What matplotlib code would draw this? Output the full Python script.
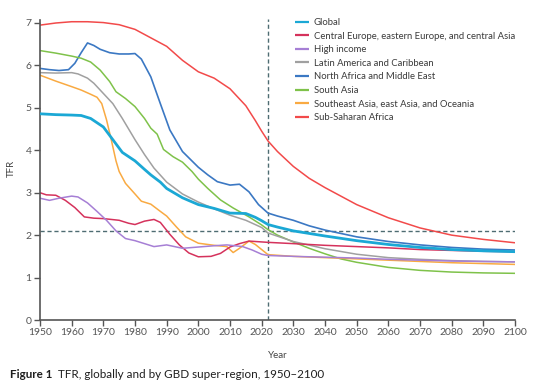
import matplotlib
matplotlib.use("Agg")
import matplotlib.pyplot as plt

plt.rcParams['font.family'] = ['Lato', 'DejaVu Sans']

# ---- data ----
global_years = [1950, 1955, 1960, 1963, 1966, 1970, 1973, 1976, 1980, 1983, 1985, 1988, 1990, 1995,
                2000, 2005, 2010, 2015, 2018, 2020, 2022, 2025, 2030, 2040, 2050, 2060, 2070, 2080, 2090, 2100]
global_tfr = [4.86, 4.84, 4.83, 4.82, 4.75, 4.55, 4.25, 3.95, 3.75, 3.55, 3.42, 3.25, 3.1, 2.88,
              2.72, 2.63, 2.52, 2.51, 2.42, 2.34, 2.25, 2.19, 2.1, 1.98, 1.87, 1.78, 1.71, 1.66, 1.63, 1.61]

ceeca_years = [1950, 1952, 1955, 1958, 1961, 1964, 1967, 1970, 1975, 1978, 1980, 1983, 1986, 1988,
               1991, 1994, 1997, 2000, 2004, 2007, 2010, 2013, 2016, 2020, 2022, 2030, 2040, 2050,
               2060, 2070, 2080, 2090, 2100]
ceeca_tfr = [3.0, 2.95, 2.94, 2.82, 2.65, 2.43, 2.4, 2.39, 2.35, 2.28, 2.25, 2.33, 2.37, 2.3,
             2.02, 1.77, 1.58, 1.49, 1.5, 1.57, 1.72, 1.8, 1.86, 1.84, 1.83, 1.8, 1.76, 1.73,
             1.7, 1.66, 1.64, 1.62, 1.61]

hi_years = [1950, 1953, 1956, 1960, 1962, 1965, 1968, 1971, 1974, 1977, 1980, 1983, 1986, 1990,
            1995, 2000, 2005, 2009, 2014, 2017, 2020, 2022, 2030, 2040, 2050, 2060, 2070, 2080, 2090, 2100]
hi_tfr = [2.87, 2.82, 2.87, 2.92, 2.9, 2.76, 2.56, 2.35, 2.1, 1.92, 1.87, 1.8, 1.73, 1.77,
          1.69, 1.72, 1.75, 1.77, 1.73, 1.65, 1.55, 1.52, 1.5, 1.48, 1.46, 1.43, 1.41, 1.39, 1.38, 1.37]

lac_years = [1950, 1955, 1960, 1962, 1965, 1967, 1970, 1973, 1976, 1980, 1983, 1986, 1990, 1995,
             2000, 2005, 2010, 2015, 2020, 2022, 2030, 2040, 2050, 2060, 2070, 2080, 2090, 2100]
lac_tfr = [5.83, 5.82, 5.83, 5.8, 5.7, 5.58, 5.34, 5.1, 4.75, 4.25, 3.9, 3.58, 3.25, 2.97,
           2.78, 2.62, 2.47, 2.35, 2.18, 2.05, 1.85, 1.68, 1.55, 1.47, 1.43, 1.4, 1.38, 1.37]

name_years = [1950, 1953, 1956, 1959, 1961, 1963, 1965, 1967, 1969, 1972, 1975, 1978, 1980, 1982,
              1985, 1988, 1991, 1995, 2000, 2003, 2006, 2010, 2013, 2016, 2019, 2022, 2025, 2030,
              2035, 2040, 2050, 2060, 2070, 2080, 2090, 2100]
name_tfr = [5.93, 5.9, 5.88, 5.9, 6.05, 6.3, 6.53, 6.47, 6.38, 6.3, 6.27, 6.27, 6.28, 6.15,
            5.73, 5.1, 4.48, 3.97, 3.6, 3.42, 3.26, 3.18, 3.2, 3.02, 2.72, 2.52, 2.45, 2.35,
            2.22, 2.12, 1.96, 1.85, 1.77, 1.71, 1.67, 1.65]

sa_years = [1950, 1955, 1960, 1963, 1966, 1969, 1972, 1974, 1977, 1980, 1983, 1985, 1987, 1989,
            1992, 1995, 1998, 2000, 2003, 2007, 2011, 2016, 2020, 2022, 2025, 2030, 2035, 2040,
            2045, 2050, 2060, 2070, 2080, 2090, 2100]
sa_tfr = [6.35, 6.29, 6.22, 6.17, 6.08, 5.89, 5.62, 5.38, 5.22, 5.03, 4.75, 4.52, 4.38, 4.02,
          3.85, 3.72, 3.5, 3.32, 3.1, 2.83, 2.64, 2.43, 2.24, 2.13, 2.0, 1.84, 1.69, 1.56,
          1.44, 1.36, 1.24, 1.17, 1.13, 1.11, 1.1]

seao_years = [1950, 1955, 1960, 1963, 1966, 1968, 1969.5, 1971, 1972.5, 1974, 1975, 1977, 1980,
              1982, 1985, 1988, 1990, 1993, 1996, 2000, 2005, 2009, 2011, 2013, 2016, 2018,
              2021, 2022, 2030, 2040, 2050, 2060, 2070, 2080, 2090, 2100]
seao_tfr = [5.77, 5.63, 5.5, 5.42, 5.32, 5.25, 5.1, 4.72, 4.25, 3.75, 3.5, 3.22, 2.97,
            2.8, 2.73, 2.56, 2.45, 2.2, 1.96, 1.81, 1.76, 1.73, 1.59, 1.69, 1.86, 1.78,
            1.6, 1.54, 1.5, 1.47, 1.44, 1.41, 1.38, 1.35, 1.33, 1.31]

ssa_years = [1950, 1955, 1960, 1965, 1970, 1975, 1980, 1985, 1990, 1995, 2000, 2005, 2010, 2015,
             2018, 2020, 2022, 2025, 2030, 2035, 2040, 2050, 2060, 2070, 2080, 2090, 2100]
ssa_tfr = [6.95, 7.0, 7.03, 7.03, 7.01, 6.96, 6.85, 6.65, 6.45, 6.12, 5.85, 5.7, 5.45, 5.05,
           4.7, 4.45, 4.22, 3.97, 3.62, 3.34, 3.12, 2.72, 2.41, 2.17, 2.0, 1.9, 1.82]

series_names = ["Global", "Central Europe, eastern Europe, and central Asia", "High income",
                "Latin America and Caribbean", "North Africa and Middle East", "South Asia",
                "Southeast Asia, east Asia, and Oceania", "Sub-Saharan Africa"]
series_years = [global_years, ceeca_years, hi_years, lac_years, name_years, sa_years, seao_years, ssa_years]
series_values = [global_tfr, ceeca_tfr, hi_tfr, lac_tfr, name_tfr, sa_tfr, seao_tfr, ssa_tfr]
series_colors = ["#1ba8d5", "#d5325c", "#a67fd5", "#a0a0a0", "#3b78c3", "#7fc24a", "#f9aa42", "#f24a4a"]
series_widths = [2.0, 1.1, 1.1, 1.1, 1.2, 1.1, 1.1, 1.1]

replacement_level = 2.1
current_year = 2022

x_ticks = list(range(1950, 2101, 10))
y_ticks = list(range(0, 8))

# ---- figure ----
Y_TOP = 7.15
px_per_unit = 297 / 7
top_px = 320 - Y_TOP * px_per_unit
fig = plt.figure(figsize=(5.4, 3.92), dpi=100)
ax = fig.add_axes([40 / 540, 1 - 320 / 392, 475 / 540, (320 - top_px) / 392])

ref_color = "#4e6c72"
ax.axhline(replacement_level, color=ref_color, lw=1.0, ls=(0, (3, 2)), zorder=1)
ax.axvline(current_year, color=ref_color, lw=1.0, ls=(0, (3, 2)), zorder=1,
           ymax=7.1 / Y_TOP)

# draw order: global on top of others
order = [7, 4, 5, 3, 6, 1, 2, 0]
handles = {}
for i in order:
    h, = ax.plot(series_years[i], series_values[i], color=series_colors[i],
                 lw=series_widths[i], solid_capstyle='butt', zorder=3 if i == 0 else 2)
    handles[i] = h

leg = ax.legend([handles[i] for i in range(8)], series_names, loc='upper left',
                bbox_to_anchor=(255 / 475, 1 - (18 - top_px) / (320 - top_px)),
                frameon=False, fontsize=6.85,
                handlelength=1.45, handletextpad=0.5, labelspacing=0.48,
                borderaxespad=0, borderpad=0)
for t in leg.get_texts():
    t.set_color("#3a3a3a")
for lh in leg.get_lines():
    lh.set_linewidth(1.6)

ax.set_xlim(1950, 2100)
ax.set_ylim(0, Y_TOP)
ax.set_xticks(x_ticks)
ax.set_yticks(y_ticks)
ax.tick_params(axis='both', direction='out', length=4, width=1.0, colors="#555555",
               labelsize=7.5, pad=2)
for s in ['top', 'right']:
    ax.spines[s].set_visible(False)
for s in ['left', 'bottom']:
    ax.spines[s].set_color("#555555")
    ax.spines[s].set_linewidth(1.2)
ax.spines['left'].set_bounds(0, 7.08)
ax.spines['bottom'].set_bounds(1950, 2100)

ax.set_xlabel("Year", fontsize=7, color="#444444", labelpad=10)
ax.set_ylabel("TFR", fontsize=7, color="#444444", labelpad=7)

fig.text(10 / 540, 1 - 378 / 392, "Figure 1", fontsize=8.4, fontweight='bold', color="#1e1e1e",
         va='baseline', ha='left')
fig.text(58 / 540, 1 - 378 / 392, "TFR, globally and by GBD super-region, 1950\u20132100",
         fontsize=8.4, color="#1e1e1e", va='baseline', ha='left')

fig.savefig("out.png", dpi=100)
